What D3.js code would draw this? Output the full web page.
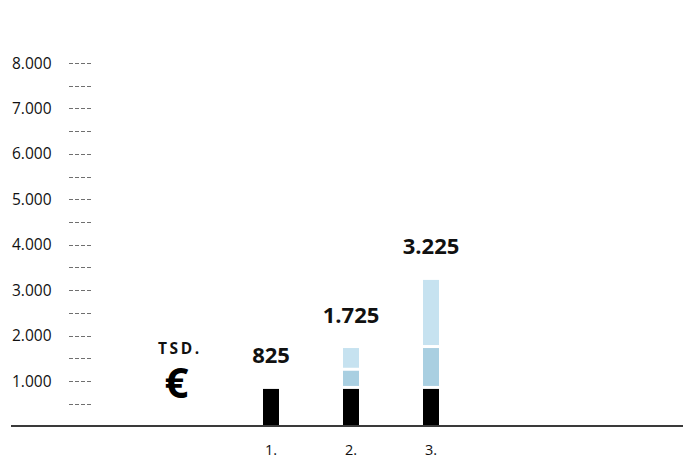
<!DOCTYPE html>
<html>
<head>
<meta charset="utf-8">
<script src="https://cdn.jsdelivr.net/npm/d3@7"></script>
<style>
  html, body { margin: 0; padding: 0; background: #fff; }
  svg { display: block; font-family: "Open Sans", "Noto Sans", sans-serif; }
</style>
</head>
<body>
<svg class="bar-chart" width="683" height="458"></svg>
<script>
// data (TSD. €)
const categories = ['1.', '2.', '3.'];
const baseValues = [825, 825, 825];     // black part
const midValues = [0, 400, 900];        // medium blue part
const topValues = [0, 500, 1500];       // light blue part
const totals = [825, 1725, 3225];
const tickValues = [1000, 2000, 3000, 4000, 5000, 6000, 7000, 8000];
const minorTickValues = d3.range(500, 8001, 500);

const locale = d3.formatLocale({ decimal: ',', thousands: '.', grouping: [3], currency: ['', '€'] });
const fmt = locale.format(',d');

const svg = d3.select('.bar-chart');
const chart = svg.append('g');

const yScale = d3.scaleLinear().domain([0, 8000]).range([426.4, 63]);
const xScale = d3.scalePoint().domain(categories).range([271, 431]);
const barWidth = 16;
const segGap = 3;

// dashed grid marks next to the labels
chart.append('g')
  .selectAll('line')
  .data(minorTickValues)
  .enter()
  .append('line')
  .attr('x1', 69).attr('x2', 92)
  .attr('y1', d => Math.round(yScale(d)) + 0.5)
  .attr('y2', d => Math.round(yScale(d)) + 0.5)
  .attr('stroke', '#6f6f6f')
  .attr('stroke-width', 1)
  .attr('stroke-dasharray', '4,2');

// y labels
chart.append('g')
  .selectAll('text')
  .data(tickValues)
  .enter()
  .append('text')
  .attr('x', 51.5)
  .attr('y', d => yScale(d))
  .attr('dy', '0.36em')
  .attr('text-anchor', 'end')
  .attr('font-size', 15.5)
  .attr('fill', '#111')
  .text(d => fmt(d));

// stacked bars
const rows = categories.map((c, i) => ({ cat: c, base: baseValues[i], mid: midValues[i], top: topValues[i] }));
const stack = d3.stack().keys(['base', 'mid', 'top'])(rows);
const colors = { base: '#000000', mid: '#a9cfe1', top: '#c6e2f0' };

stack.forEach(layer => {
  chart.append('g')
    .selectAll('rect')
    .data(layer.filter(d => d[1] > d[0]))
    .enter()
    .append('rect')
    .attr('x', d => xScale(d.data.cat) - barWidth / 2)
    .attr('y', d => yScale(d[1]))
    .attr('width', barWidth)
    .attr('height', d => yScale(d[0]) - yScale(d[1]) - (layer.key === 'base' ? 0 : segGap))
    .attr('fill', colors[layer.key]);
});

// totals above bars
chart.append('g')
  .selectAll('text')
  .data(totals)
  .enter()
  .append('text')
  .attr('x', (d, i) => xScale(categories[i]))
  .attr('y', d => yScale(d) - 25.5)
  .attr('text-anchor', 'middle')
  .attr('font-size', 22)
  .attr('font-weight', 700)
  .attr('fill', '#111')
  .text(d => fmt(d));

// baseline
chart.append('line')
  .attr('x1', 11).attr('x2', 683)
  .attr('y1', 426).attr('y2', 426)
  .attr('stroke', '#3a3a3a')
  .attr('stroke-width', 2);

// x labels
chart.append('g')
  .selectAll('text')
  .data(categories)
  .enter()
  .append('text')
  .attr('x', d => xScale(d))
  .attr('y', 455)
  .attr('text-anchor', 'middle')
  .attr('font-size', 14.5)
  .attr('fill', '#111')
  .text(d => d);

// unit
chart.append('text')
  .attr('x', 158).attr('y', 354)
  .attr('font-size', 15.5)
  .attr('font-weight', 700)
  .attr('letter-spacing', 2.6)
  .attr('fill', '#111')
  .text('TSD.');
chart.append('text')
  .attr('x', 176.5).attr('y', 398)
  .attr('text-anchor', 'middle')
  .attr('font-size', 42)
  .attr('font-weight', 700)
  .attr('fill', '#000')
  .text('€');
</script>
</body>
</html>
